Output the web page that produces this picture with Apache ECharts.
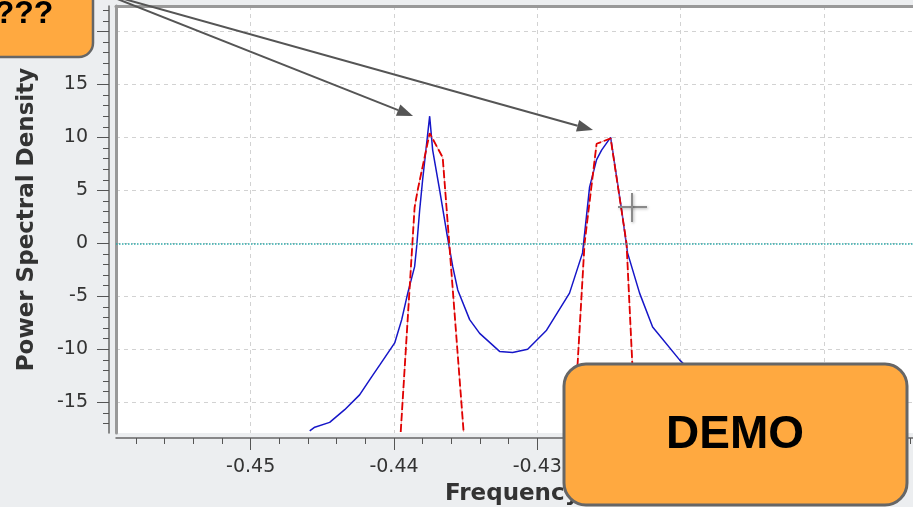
<!DOCTYPE html>
<html>
<head>
<meta charset="utf-8">
<script src="https://cdn.jsdelivr.net/npm/echarts@6/dist/echarts.min.js"></script>
<style>
html, body { margin: 0; padding: 0; background: #eceef0; }
#chart { width: 913px; height: 507px; }
</style>
</head>
<body>
<div id="chart"></div>
<script>
// measured spectrum (blue) and fitted model (red, dashed)
const blueFreq = [-0.44588, -0.44553, -0.44449, -0.44344, -0.44240, -0.44156, -0.44100, -0.43995,
  -0.43946, -0.43904, -0.43856, -0.43842, -0.43821, -0.43800, -0.43751, -0.43730, -0.43681,
  -0.43632, -0.43590, -0.43555, -0.43472, -0.43402, -0.43263, -0.43172, -0.43067, -0.42935,
  -0.42775, -0.42684, -0.42635, -0.42586, -0.42551, -0.42488, -0.42411, -0.42370, -0.42286,
  -0.42195, -0.42007, -0.41867, -0.41728, -0.41553, -0.41435];
const bluePsd = [-17.7, -17.35, -16.9, -15.7, -14.3, -12.6, -11.5, -9.4,
  -7.2, -4.7, -2.2, -0.35, 3.1, 6.0, 12.0, 8.8, 5.0,
  1.0, -2.2, -4.4, -7.2, -8.5, -10.2, -10.3, -10.0, -8.2,
  -4.7, -0.9, 5.3, 7.9, 8.8, 10.0, 3.1, -0.9, -4.7,
  -7.9, -11.0, -12.9, -14.6, -16.7, -17.8];

const redFreq = [-0.43953, -0.43856, -0.43835, -0.43751, -0.43660, -0.43514, -0.4313,
  -0.42746, -0.42670, -0.42586, -0.42488, -0.42377, -0.42314];
const redPsd = [-17.8, 3.4, 5.0, 10.4, 8.1, -17.8, null,
  -17.8, 0.0, 9.4, 9.9, 0.0, -17.8];

const xMajorTicks = [-0.45, -0.44, -0.43, -0.42, -0.41, -0.40];
const xMinorTicks = [-0.458, -0.456, -0.454, -0.452, -0.450, -0.448, -0.446, -0.444, -0.442,
  -0.440, -0.438, -0.436, -0.434, -0.432, -0.430, -0.428, -0.426, -0.424, -0.422, -0.420,
  -0.418, -0.416, -0.414, -0.412, -0.410, -0.408, -0.406, -0.404, -0.402, -0.400, -0.398];
const yMajorTicks = [-15, -10, -5, 0, 5, 10, 15, 20];
const yMinorTicks = [-17, -16, -15, -14, -13, -12, -11, -10, -9, -8, -7, -6, -5, -4, -3, -2, -1,
  0, 1, 2, 3, 4, 5, 6, 7, 8, 9, 10, 11, 12, 13, 14, 15, 16, 17, 18, 19, 20, 21, 22];

const blueData = blueFreq.map((f, i) => [f, bluePsd[i]]);
const redData = redFreq.map((f, i) => [f, redPsd[i]]);

const X_MIN = -0.4594, X_MAX = -0.3968;
const Y_MIN = -17.9, Y_MAX = 22.4;
const font = 'DejaVu Sans';

// arrow from (x0,y0) to tip (x1,y1)
function arrow(x0, y0, x1, y1) {
  const a = Math.atan2(y1 - y0, x1 - x0);
  const L = 16, W = 6;
  const bx = x1 - L * Math.cos(a), by = y1 - L * Math.sin(a);
  const px = -Math.sin(a) * W, py = Math.cos(a) * W;
  return [
    { type: 'line', z: 90, shape: { x1: x0, y1: y0, x2: bx, y2: by },
      style: { stroke: '#555', lineWidth: 2 } },
    { type: 'polygon', z: 90, shape: { points: [[x1, y1], [bx + px, by + py], [bx - px, by - py]] },
      style: { fill: '#555' } }
  ];
}

const chart = echarts.init(document.getElementById('chart'));
chart.setOption({
  backgroundColor: '#eceef0',
  animation: false,
  grid: { left: 116, top: 6, width: 897, bottom: 74, show: true, backgroundColor: '#fff', borderWidth: 0,
    containLabel: false, outerBoundsMode: 'none' },
  xAxis: [
    {
      type: 'value', min: X_MIN, max: X_MAX, position: 'bottom', offset: 5,
      axisLine: { onZero: false, lineStyle: { color: '#666', width: 1.5 } },
      axisTick: { customValues: xMajorTicks, length: 12, lineStyle: { color: '#555' } },
      axisLabel: { customValues: xMajorTicks, margin: 20, fontSize: 19, color: '#333', fontFamily: font,
        formatter: v => v.toFixed(2) },
      splitLine: { show: true, lineStyle: { color: '#d2d2d2', type: [4, 4] } }
    },
    {
      type: 'value', min: X_MIN, max: X_MAX, position: 'bottom', offset: 5,
      axisLine: { show: false, onZero: false },
      axisTick: { customValues: xMinorTicks, length: 6, lineStyle: { color: '#555' } },
      axisLabel: { show: false },
      splitLine: { show: false }
    },
    {
      type: 'value', min: X_MIN, max: X_MAX, position: 'top',
      axisLine: { onZero: false, lineStyle: { color: '#999', width: 3 } },
      axisTick: { show: false }, axisLabel: { show: false }, splitLine: { show: false }
    }
  ],
  yAxis: [
    {
      type: 'value', min: Y_MIN, max: Y_MAX, position: 'left', offset: 7,
      name: 'Power Spectral Density', nameLocation: 'middle', nameGap: 70,
      nameTextStyle: { fontSize: 23, fontWeight: 'bold', color: '#333', fontFamily: font },
      axisLine: { onZero: false, lineStyle: { color: '#666', width: 1.5 } },
      axisTick: { customValues: yMajorTicks, length: 12, lineStyle: { color: '#555' } },
      axisLabel: { customValues: yMajorTicks, margin: 21, fontSize: 19, color: '#333', fontFamily: font },
      splitLine: { show: true, lineStyle: { color: '#d2d2d2', type: [4, 4] } }
    },
    {
      type: 'value', min: Y_MIN, max: Y_MAX, position: 'left', offset: 7,
      axisLine: { show: false, onZero: false },
      axisTick: { customValues: yMinorTicks, length: 6, lineStyle: { color: '#555' } },
      axisLabel: { show: false }, splitLine: { show: false }
    },
    {
      type: 'value', min: Y_MIN, max: Y_MAX, position: 'left', offset: 0,
      axisLine: { onZero: false, lineStyle: { color: '#999', width: 3 } },
      axisTick: { show: false }, axisLabel: { show: false }, splitLine: { show: false }
    }
  ],
  series: [
    {
      name: 'measured', type: 'line', data: blueData, showSymbol: false,
      lineStyle: { color: '#1616c8', width: 1.5 },
      markLine: {
        silent: true, symbol: ['none', 'none'], label: { show: false },
        lineStyle: { color: '#2fa9a9', type: 'dotted', width: 1.5 },
        data: [{ yAxis: 0 }]
      }
    },
    {
      name: 'model-under', type: 'line', data: redData, showSymbol: false, connectNulls: false,
      lineStyle: { color: 'rgba(225,100,100,0.6)', width: 1 }
    },
    {
      name: 'model', type: 'line', data: redData, showSymbol: false, connectNulls: false,
      lineStyle: { color: '#e00000', width: 1.8, type: [8, 3] }
    }
  ],
  graphic: [
    ...arrow(82, -15, 413, 116),
    ...arrow(74, -15, 593, 130),
    { type: 'rect', z: 100, shape: { x: -50, y: -40, width: 143, height: 97, r: 14 },
      style: { fill: '#ffa940', stroke: '#666', lineWidth: 2.5 } },
    { type: 'text', z: 101, style: { text: '???', x: 24, y: 14, align: 'center', verticalAlign: 'middle',
      font: 'bold 32px "Liberation Sans", Arial, sans-serif', fill: '#000' } },
    { type: 'text', z: 50, style: { text: 'Frequency', x: 445, y: 494, verticalAlign: 'middle',
      font: 'bold 23px "DejaVu Sans", sans-serif', fill: '#333' } },
    { type: 'group', z: 95, children: [
      { type: 'line', z: 95, shape: { x1: 618, y1: 207, x2: 647, y2: 207 },
        style: { stroke: '#8a8a8a', lineWidth: 2, shadowBlur: 3, shadowColor: 'rgba(0,0,0,0.3)', shadowOffsetX: 1, shadowOffsetY: 1 } },
      { type: 'line', z: 95, shape: { x1: 632, y1: 193, x2: 632, y2: 222 },
        style: { stroke: '#8a8a8a', lineWidth: 2, shadowBlur: 3, shadowColor: 'rgba(0,0,0,0.3)', shadowOffsetX: 1, shadowOffsetY: 1 } }
    ] },
    { type: 'rect', z: 100, shape: { x: 564, y: 364, width: 343, height: 141, r: 22 },
      style: { fill: '#ffa940', stroke: '#666', lineWidth: 3 } },
    { type: 'text', z: 101, style: { text: 'DEMO', x: 735, y: 435, align: 'center', verticalAlign: 'middle',
      font: 'bold 46px "Liberation Sans", Arial, sans-serif', fill: '#000' } }
  ]
});
</script>
</body>
</html>
